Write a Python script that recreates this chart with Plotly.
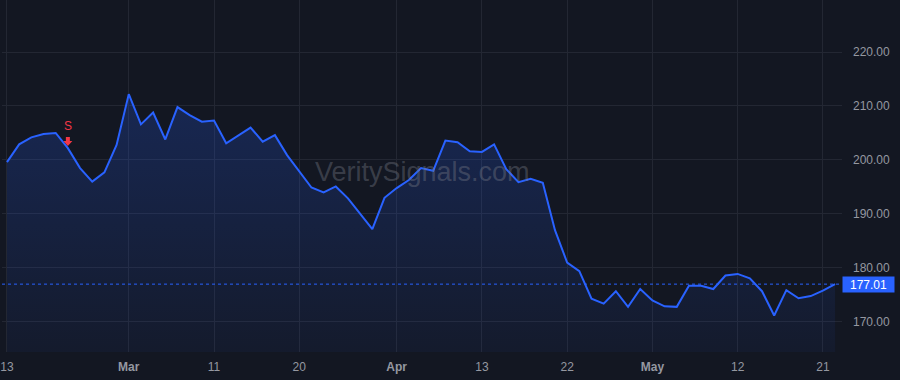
import plotly.graph_objects as go

# ---- data ----
prices = [199.6, 202.9, 204.2, 204.8, 205.0, 202.2, 198.5, 196.0, 197.7, 202.8,
          212.2, 206.6, 208.8, 203.8, 209.8, 208.3, 207.1, 207.3, 203.1, 204.6,
          206.0, 203.4, 204.6, 200.9, 197.9, 194.9, 194.0, 195.1, 192.9, 190.0,
          187.2, 193.0, 194.8, 196.3, 198.5, 198.0, 203.6, 203.3, 201.6, 201.5,
          202.9, 198.3, 195.9, 196.5, 195.8, 187.0, 181.0, 179.4, 174.3, 173.4,
          175.7, 172.8, 176.1, 174.0, 172.9, 172.8, 176.7, 176.7, 176.1, 178.6,
          178.9, 178.1, 175.7, 171.2, 175.9, 174.4, 174.8, 175.8, 177.01]
tick_index = [0, 10, 17, 24, 32, 39, 46, 53, 60, 67]
tick_labels = ["13", "<b>Mar</b>", "11", "20", "<b>Apr</b>", "13", "22", "<b>May</b>", "12", "21"]
y_ticks = [170, 180, 190, 200, 210, 220]
signal_index = 5
signal_label = "S"
watermark = "VeritySignals.com"

BG = "#131722"
GRID = "#232733"
TEXT = "#9598a1"
BLUE = "#2962ff"
RED = "#f23645"
FONT = "Liberation Sans, Arial, sans-serif"

idx = list(range(len(prices)))
last = prices[-1]

fig = go.Figure()
fig.add_trace(go.Scatter(
    x=idx, y=prices, mode="lines",
    line=dict(color=BLUE, width=2),
    fill="tozeroy",
    fillgradient=dict(type="vertical", start=165, stop=212,
                      colorscale=[[0, "rgba(41,98,255,0.05)"], [1, "rgba(41,98,255,0.22)"]]),
    hoverinfo="skip", showlegend=False,
))

fig.add_shape(type="line", xref="paper", x0=0, x1=1, yref="y", y0=last, y1=last,
              line=dict(color=BLUE, width=1, dash="dot"), layer="above")

# watermark
fig.add_annotation(xref="paper", yref="paper", x=0.5, y=0.51, text=watermark,
                   showarrow=False, font=dict(family=FONT, size=27, color="rgba(120,123,134,0.40)"))

# sell signal: label and down arrow anchored to the data point
fig.add_annotation(x=signal_index, y=prices[signal_index], text=signal_label, showarrow=False,
                   yshift=22, font=dict(family=FONT, size=12, color=RED))
fig.add_shape(type="path", xref="x", yref="y", xsizemode="pixel", ysizemode="pixel",
              xanchor=signal_index, yanchor=prices[signal_index],
              path="M -2,11 L 2,11 L 2,7 L 4.5,7 L 0,2 L -4.5,7 L -2,7 Z",
              fillcolor=RED, line=dict(width=0), layer="above")

# last price label
fig.add_annotation(xref="paper", x=1, y=last, text=f"{last:.2f}", showarrow=False,
                   xanchor="left", xshift=0, bgcolor=BLUE, borderpad=1, width=49, height=13,
                   font=dict(family=FONT, size=12, color="#ffffff"))

fig.update_layout(
    width=900, height=380,
    margin=dict(l=0, r=58, t=0, b=28),
    paper_bgcolor=BG, plot_bgcolor=BG,
    font=dict(family=FONT, size=12, color=TEXT),
    xaxis=dict(range=[-0.41, 68.57], tickmode="array", tickvals=tick_index, ticktext=tick_labels,
               showgrid=True, gridcolor=GRID, gridwidth=1, zeroline=False, showline=False,
               ticks="", ticklabelstandoff=6, ticklabeloverflow="allow",
               tickfont=dict(color=TEXT, size=12)),
    yaxis=dict(range=[164.44, 229.63], side="right", tickmode="array", tickvals=y_ticks,
               ticktext=[f"{v:.2f}" for v in y_ticks],
               showgrid=True, gridcolor=GRID, gridwidth=1, zeroline=False, showline=False,
               ticks="", ticklabelstandoff=10, tickfont=dict(color=TEXT, size=12)),
)

fig.write_html("out.html")
